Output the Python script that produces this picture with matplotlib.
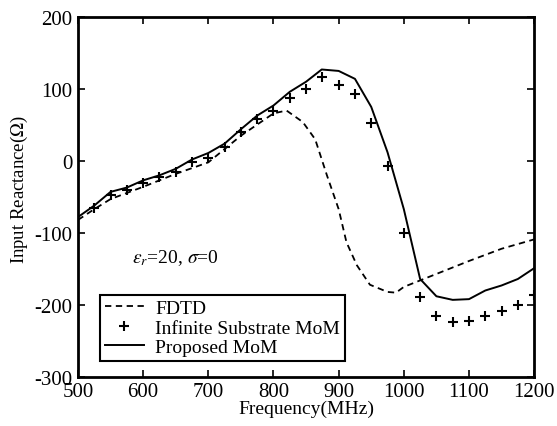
import matplotlib
matplotlib.use("Agg")
import matplotlib.pyplot as plt

plt.rcParams['font.family'] = ['Liberation Serif', 'DejaVu Serif']
plt.rcParams['mathtext.fontset'] = 'stix'
plt.rcParams['axes.unicode_minus'] = False

# FDTD (dashed)
fdtd_f = [500, 525, 550, 600, 650, 700, 750, 800, 820, 845, 864, 882, 900, 912,
          928, 948, 975, 988, 1000, 1025, 1050, 1100, 1150, 1200]
fdtd_x = [-82, -67, -53, -36, -18, -2, 35, 66, 70, 54, 30, -20, -67, -113,
          -145, -172, -182, -183, -175, -166, -157, -139, -122, -109]

# Infinite substrate MoM (+ markers)
inf_f = [525, 550, 575, 600, 625, 650, 675, 700, 725, 750, 775, 800, 825, 850,
         875, 900, 925, 950, 975, 1000, 1025, 1050, 1075, 1100, 1125, 1150,
         1175, 1200]
inf_x = [-66, -48, -41, -31, -22, -16, -1, 4, 19, 40, 58, 70, 87, 100,
         117, 105, 93, 53, -7, -100, -189, -216, -224, -223, -216, -209,
         -200, -186]

# Proposed MoM (solid)
mom_f = [500, 525, 550, 575, 600, 625, 650, 675, 700, 725, 750, 775, 800, 825,
         850, 874, 900, 925, 950, 975, 1000, 1025, 1050, 1075, 1100, 1125,
         1150, 1175, 1200]
mom_x = [-78, -62, -43, -37, -27, -20, -11, 2, 11, 24, 44, 63, 77, 96,
         110, 127, 125, 114, 75, 12, -67, -164, -188, -193, -192, -180,
         -173, -164, -149]

fig = plt.figure(figsize=(5.57, 4.27), dpi=100)
ax = fig.add_axes([0.140, 0.115, 0.819, 0.843])

ax.plot(fdtd_f, fdtd_x, 'k--', lw=1.3, dashes=(3.5, 2.5), label='FDTD')
ax.plot(inf_f, inf_x, 'k+', ms=7, mew=1.5, label='Infinite Substrate MoM')
ax.plot(mom_f, mom_x, 'k-', lw=1.4, label='Proposed MoM')

ax.set_xlim(500, 1200)
ax.set_ylim(-300, 200)
ax.set_xticks(range(500, 1201, 100))
ax.set_yticks(range(-300, 201, 100))
ax.tick_params(direction='in', top=True, right=True, length=5, width=1.2,
               labelsize=15, pad=4)
for s in ax.spines.values():
    s.set_linewidth(2)

ax.set_xlabel('Frequency(MHz)', fontsize=14, labelpad=-1)
ax.set_ylabel(r'Input Reactance($\Omega$)', fontsize=13.5, labelpad=2)
ax.yaxis.set_label_coords(-0.105, 0.522)

ax.text(583, -133, r'$\varepsilon_r$=20, $\sigma$=0', fontsize=14, va='center')

leg = ax.legend(loc='lower left', bbox_to_anchor=(0.048, 0.044), fontsize=14,
                handlelength=2.0, handletextpad=0.6, borderpad=0.25,
                labelspacing=0.1, fancybox=False, framealpha=1,
                edgecolor='k', borderaxespad=0)
leg.get_frame().set_linewidth(1.5)

fig.savefig('out.png', dpi=100)
